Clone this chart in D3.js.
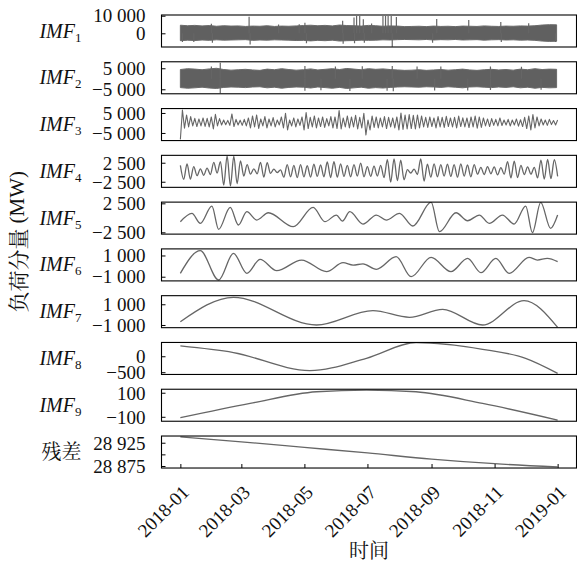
<!DOCTYPE html>
<html>
<head>
<meta charset="utf-8">
<script src="https://cdn.jsdelivr.net/npm/d3@7/dist/d3.min.js"></script>
<style>
  body { margin: 0; background: #fff; }
  .serif, .tick text { font-family: "Liberation Serif", "Times New Roman", serif; }
  .cjk { font-family: "Noto Serif CJK SC", "Noto Sans CJK SC", serif; }
</style>
</head>
<body>
<div id="chart"></div>
<script>
// ---------- data (days counted from 2018-01-01) ----------
const panelNames = ["1", "2", "3", "4", "5", "6", "7", "8", "9", "残差"]

const xTickLabels = ["2018-01", "2018-03", "2018-05", "2018-07", "2018-09", "2018-11", "2019-01"]

const yDomains = [
  [-7780, 10400], [-7140, 8090], [-8800, 7200], [-3970, 4440], [-2810, 2710],
  [-1395, 1620], [-1260, 1830], [-571, 433], [-137, 129], [28870.7, 28939.4]
]
const yTickValues = [
  [0, 10000], [-5000, 5000], [-5000, 5000], [-2500, 2500], [-2500, 2500],
  [-1000, 1000], [-1000, 1000], [-500, 0], [-100, 100], [28875, 28900, 28925]
]
const residualLabelled = [28875, 28925]

// IMF1: weekly envelope of the dense band + visible spikes [day, value]
const imf1Hi = [4600, 4300, 4500, 4200, 4400, 4000, 4300, 4100, 4200, 3900, 4100, 4000, 4300, 3900, 4100, 4000, 4200, 4400, 4600, 4300, 4500, 4200, 4700, 4400, 4300, 4100, 4500, 4300, 4000, 4200, 4100, 3800, 3900, 4000, 3800, 4100, 3900, 4000, 3800, 4100, 4000, 3900, 4200, 4000, 3900, 4100, 4000, 4200, 4100, 4300, 4700, 4900, 4800]
const imf1Lo = [-4200, -3900, -4100, -3800, -4000, -3700, -3900, -3800, -3700, -3600, -4000, -3800, -3900, -3700, -3800, -3900, -4100, -4000, -4300, -4000, -4200, -3900, -4400, -4200, -4100, -3900, -4000, -3900, -3700, -3800, -3600, -3500, -3600, -3700, -3500, -3800, -3600, -3700, -3500, -3800, -3700, -3600, -3900, -3700, -3600, -3800, -3700, -3900, -3800, -4000, -4400, -4600, -4500]
const imf1Spikes = [
  [66.5, 9400], [120.5, 6000], [157, 7100], [168, 9000], [170.5, 9800], [173.5, 9800], [177, 8000],
  [196, 9800], [198.5, 9800], [201, 9800], [204, 9800], [209, 9300], [248, 8100], [279, 7500],
  [310, 6400], [337, 5700], [115, 5200], [185, 5500], [30, 5400], [95, 5000],
  [67.5, -6300], [122, -5700], [157.5, -6000], [168.5, -5600], [205, -7600], [244, -5300],
  [310.5, -5000], [363, -5000], [2, -5000], [13, -5000], [31, -5300], [178, -5400]
]

// IMF2: weekly envelope + spikes
const imf2Hi = [4400, 4800, 4600, 4300, 4700, 5000, 4400, 4100, 4300, 4500, 4200, 4000, 4600, 4300, 4800, 4400, 4100, 4300, 4700, 4200, 4500, 4800, 4400, 4900, 4600, 4300, 4800, 4500, 4700, 4400, 4200, 4000, 4100, 4300, 4000, 4200, 4400, 4100, 4300, 4600, 4200, 4000, 4300, 4500, 4200, 4400, 4100, 4600, 4300, 4800, 4400, 4600, 4500]
const imf2Lo = [-4200, -4500, -4300, -4000, -4400, -4600, -4100, -3900, -4000, -4200, -3900, -3800, -4300, -4000, -4500, -4100, -3900, -4000, -4400, -3900, -4200, -4500, -4100, -4600, -4300, -4000, -4500, -4200, -4400, -4100, -3900, -3800, -3900, -4000, -3800, -3900, -4100, -3800, -4000, -4300, -3900, -3800, -4000, -4200, -3900, -4100, -3800, -4300, -4000, -4500, -4100, -4300, -4200]
const imf2Spikes = [
  [38.6, 7600], [120.5, 6100], [30, 5800], [150, 5900], [176, 6000], [205, 6100], [229, 5800],
  [252, 5900], [330, 5700], [300, 5800],
  [38.6, -6900], [120.5, -5650], [136, -5500], [164, -5800], [200, -5700], [206, -5900],
  [246, -5600], [278, -5600], [300, -5300], [349, -5200]
]

// IMF3: low / high swing in each 4-day step
const imf3Lo = [-8200, -2600, -2000, -1500, -1800, -1500, -1700, -2000, -3000, -1500, -1000, -900, -1200, -1800, -1000, -1200, -1500, -2500, -2000, -2700, -1500, -2500, -1500, -2000, -1000, -2500, -3500, -1500, -2000, -1200, -3500, -2800, -2000, -2500, -1800, -2200, -1500, -2500, -2800, -3000, -2000, -2500, -2000, -3000, -2500, -6000, -3500, -2200, -2500, -2000, -2800, -2000, -2500, -3500, -3200, -3000, -2800, -3000, -2500, -2000, -2200, -1800, -2500, -2000, -2200, -1800, -2000, -2500, -1800, -2000, -2300, -2000, -2600, -2200, -1500, -1800, -1200, -1500, -1300, -1000, -1500, -1000, -1600, -1800, -2800, -3500, -2500, -1500, -1000, -1200, -800, -1000]
const imf3Hi = [6500, 4000, 3200, 2300, 2000, 2500, 2300, 3000, 4300, 2200, 1500, 1300, 4500, 1800, 1400, 1800, 2500, 3500, 4000, 2000, 3200, 2000, 2700, 1500, 3000, 4800, 1500, 2500, 2000, 3000, 5200, 2800, 3500, 2500, 3000, 2200, 3200, 3000, 6200, 2500, 3500, 3000, 3800, 2800, 4800, 1500, 3500, 3000, 2500, 3200, 2800, 2500, 3000, 5000, 4000, 4200, 3800, 4000, 3500, 2800, 3000, 2500, 3200, 2800, 3300, 2500, 2800, 3400, 2600, 2500, 3000, 3400, 3000, 2500, 2000, 2200, 1800, 2500, 1500, 1800, 1500, 2000, 1600, 2800, 3500, 4200, 3000, 2000, 1500, 1800, 1200, 1500]

// IMF4: successive peaks and troughs, evenly spaced through the year
const imf4 = [
  1800, -1900, 2200, -1800, 1500, -900, 900, -800, 1100, -600,
  2600, -200, 2800, -3400, 4300, -3600, 4200, -3000, 3000, -1000,
  2000, -500, 900, -400, 2600, -1300, 2500, -300, 800, -100,
  600, -1300, 2000, -1200, 1800, -1400, 2000, -1200, 1700, -1300,
  2100, -1100, 1900, -1200, 2700, -1400, 2800, -1300, 2200, -1100,
  1800, -1200, 2000, -1000, 2400, -1200, 1500, -1100, 1600, -1000,
  1800, -1400, 3300, -2600, 3500, -2200, 3200, -2000, 700, -200,
  800, -600, 3500, -2300, 2100, -1300, 2200, -1200, 2000, -1000,
  2100, -1100, 2000, -1300, 2200, -1000, 1900, -1200, 2000, -500,
  1300, -600, 1500, -400, 1400, -700, 1200, -500, 2800, -1500,
  2900, -1400, 1800, -600, 1400, -500, 1300, -1500, 3200, -1800,
  3400, -1700, 3300, -1100
]

// IMF5 .. residual: turning points [day, value]
const imf5 = [[0, -670], [11.2, 770], [19.3, -950], [30.5, 2030], [37, -1990], [48.2, 1800], [56.2, -1240], [64.3, 1060], [73.9, -380], [85.1, 880], [109.2, -1530], [128.5, 1800], [139.8, -670], [151, 480], [156.8, -560], [163.9, 1060], [176.7, -1070], [189.6, 480], [199.2, -380], [212, 770], [224.9, -1410], [242.6, 2700], [250.6, -2390], [266.7, 880], [277.9, -500], [289.2, 480], [298.8, -950], [311.6, 480], [322.9, -1070], [334.1, 2030], [340.6, -2560], [348.6, 2650], [358.2, -1820], [365, 480]]
const imf6 = [[0, -680], [19.3, 1450], [37, -1310], [51.4, 1200], [64.3, -680], [77.1, 640], [93.2, -430], [117.3, 570], [141.4, -520], [157.4, 320], [167.1, 100], [176.7, 200], [189.6, -300], [208.8, 890], [223.3, -1000], [242.6, 830], [261.8, -520], [277.9, 730], [290.8, -620], [305.2, 730], [318.1, -680], [337.3, 830], [345.4, 570], [355, 730], [365, 420]]
const imf7 = [[0, -680], [51.4, 1675], [131.7, -1000], [186.3, 385], [221.7, -260], [253.8, 515], [292.4, -1000], [332.5, 1350], [365, -1230]]
const imf8 = [[0, 323], [51.4, 115], [125.3, -451], [180, -63], [228, 428], [292.4, 219], [334, -63], [365, -535]]
const imf9 = [[0, -108], [67.5, 11], [131.7, 108], [180, 122], [228, 108], [292.4, 11], [365, -128]]
const residual = [[0, 28937.5], [59, 28927], [120, 28915], [181, 28903], [243, 28890], [304, 28880], [365, 28873]]

// ---------- chart ----------
const width = 577
const height = 565
const left = 161.5
const right = 576.5
const top0 = 15
const step = 46.78
const panelH = 32
const lineColor = "#666"

const t0 = Date.UTC(2018, 0, 1)
const toDate = (d) => new Date(t0 + d * 864e5)

const svg = d3
  .select("#chart")
  .append("svg")
  .attr("width", width)
  .attr("height", height)

const x = d3.scaleUtc().domain([toDate(-18.25), toDate(365 + 18.25)]).range([left, right])

const loc = d3.formatLocale({ decimal: ".", thousands: " ", grouping: [3], currency: ["", ""], minus: "\u2212" })
const fmt = loc.format(",d")

// turn the raw arrays into drawable series
const weekly = (hi, lo) => hi.map((h, i) => ({ t: toDate(i * 7), hi: h, lo: lo[i] }))
const zigzag = (lo, hi) => {
  const n = lo.length * 2
  const pts = []
  lo.forEach((l, i) => {
    pts.push([toDate((2 * i) * 365 / (n - 1)), l])
    pts.push([toDate((2 * i + 1) * 365 / (n - 1)), hi[i]])
  })
  return pts
}
const even = (vals) => vals.map((v, i) => [toDate(i * 365 / (vals.length - 1)), v])
const pairs = (arr) => arr.map(([d, v]) => [toDate(d), v])

panelNames.forEach((name, i) => {
  const top = top0 + i * step
  const g = svg.append("g").attr("transform", `translate(0,${top})`)
  const y = d3.scaleLinear().domain(yDomains[i]).range([panelH, 0])

  g.append("clipPath")
    .attr("id", "clip" + i)
    .append("rect")
    .attr("x", left)
    .attr("y", 0)
    .attr("width", right - left)
    .attr("height", panelH)

  const body = g.append("g").attr("clip-path", `url(#clip${i})`)

  const line = (curve) =>
    d3.line().x((d) => x(d[0])).y((d) => y(d[1])).curve(curve)

  if (i === 0 || i === 1) {
    const band = i === 0 ? weekly(imf1Hi, imf1Lo) : weekly(imf2Hi, imf2Lo)
    const spikes = i === 0 ? imf1Spikes : imf2Spikes
    body.append("path")
      .datum(band)
      .attr("d", d3.area().x((d) => x(d.t)).y0((d) => y(d.lo)).y1((d) => y(d.hi)))
      .attr("fill", "#606060")
      .attr("stroke", "#6a6a6a")
      .attr("stroke-width", 1)
    body.selectAll("line.spike")
      .data(spikes)
      .join("line")
      .attr("class", "spike")
      .attr("x1", (d) => x(toDate(d[0])))
      .attr("x2", (d) => x(toDate(d[0])))
      .attr("y1", y(0))
      .attr("y2", (d) => y(d[1]))
      .attr("stroke", lineColor)
      .attr("stroke-width", 1.2)
  } else {
    let data, curve
    if (i === 2) { data = zigzag(imf3Lo, imf3Hi); curve = d3.curveLinear }
    else if (i === 3) { data = even(imf4); curve = d3.curveMonotoneX }
    else {
      data = pairs([imf5, imf6, imf7, imf8, imf9, residual][i - 4])
      curve = d3.curveMonotoneX
    }
    body.append("path")
      .datum(data)
      .attr("d", line(curve))
      .attr("fill", "none")
      .attr("stroke", lineColor)
      .attr("stroke-width", i === 2 ? 1.1 : 1.3)
      .attr("stroke-linejoin", "round")
  }

  // y axis, ticks pointing inward
  const yAxis = g.append("g")
    .attr("transform", `translate(${left},0)`)
    .call(
      d3.axisLeft(y)
        .tickValues(yTickValues[i])
        .tickSize(-4)
        .tickPadding(16)
        .tickFormat((d) => (i === 9 && !residualLabelled.includes(d) ? "" : fmt(d)))
    )
  yAxis.attr("font-family", null)
  yAxis.select(".domain").remove()
  yAxis.selectAll("line").attr("stroke", "#000")
  yAxis.selectAll("text").attr("class", "serif").attr("font-size", 19).attr("dy", "0.33em").attr("fill", "#111")

  // frame
  g.append("rect")
    .attr("x", left)
    .attr("y", 0)
    .attr("width", right - left)
    .attr("height", panelH)
    .attr("fill", "none")
    .attr("stroke", "#000")
    .attr("stroke-width", 1.1)

  // panel label
  const label = g.append("text")
    .attr("x", 81.5)
    .attr("y", panelH / 2 + 6.6)
    .attr("text-anchor", "end")
    .attr("fill", "#111")
  if (i < 9) {
    label.attr("class", "serif")
    label.append("tspan")
      .attr("font-style", "italic")
      .attr("font-size", 20)
      .text("IMF")
    label.append("tspan")
      .attr("font-size", 13)
      .attr("dy", 4)
      .text(name)
  } else {
    label.attr("class", "cjk")
      .attr("font-size", 20)
      .attr("y", panelH / 2 + 7)
      .text(name)
  }

  // bottom time axis on the last panel only
  if (i === 9) {
    const xAxis = g.append("g")
      .attr("transform", `translate(0,${panelH})`)
      .call(
        d3.axisBottom(x)
          .tickValues(xTickLabels.map(d3.utcParse("%Y-%m")))
          .tickSize(-4)
          .tickFormat(d3.utcFormat("%Y-%m"))
      )
    xAxis.attr("font-family", null)
    xAxis.select(".domain").remove()
    xAxis.selectAll("line").attr("stroke", "#000")
    xAxis.selectAll("text")
      .attr("class", "serif")
      .attr("font-size", 19)
      .attr("fill", "#111")
      .attr("text-anchor", "end")
      .attr("x", 0)
      .attr("y", 0)
      .attr("dy", "0.7em")
      .attr("transform", "translate(0,16) rotate(-45)")
  }
})

// axis titles: CJK part and "(MW)" kept as separate texts so each keeps its font
const yTitle = svg.append("g")
  .attr("transform", `translate(16.5,${(top0 + top0 + 9 * step + panelH) / 2}) rotate(-90)`)
yTitle.append("text")
  .attr("class", "cjk")
  .attr("x", 13)
  .attr("text-anchor", "end")
  .attr("dominant-baseline", "central")
  .attr("font-size", 21)
  .attr("fill", "#111")
  .text("负荷分量")
yTitle.append("text")
  .attr("class", "serif")
  .attr("x", 18)
  .attr("text-anchor", "start")
  .attr("dominant-baseline", "central")
  .attr("font-size", 21)
  .attr("fill", "#111")
  .text("(MW)")

svg.append("text")
  .attr("class", "cjk")
  .attr("x", (left + right) / 2)
  .attr("y", 558)
  .attr("text-anchor", "middle")
  .attr("font-size", 20)
  .attr("fill", "#111")
  .text("时间")
</script>
</body>
</html>
